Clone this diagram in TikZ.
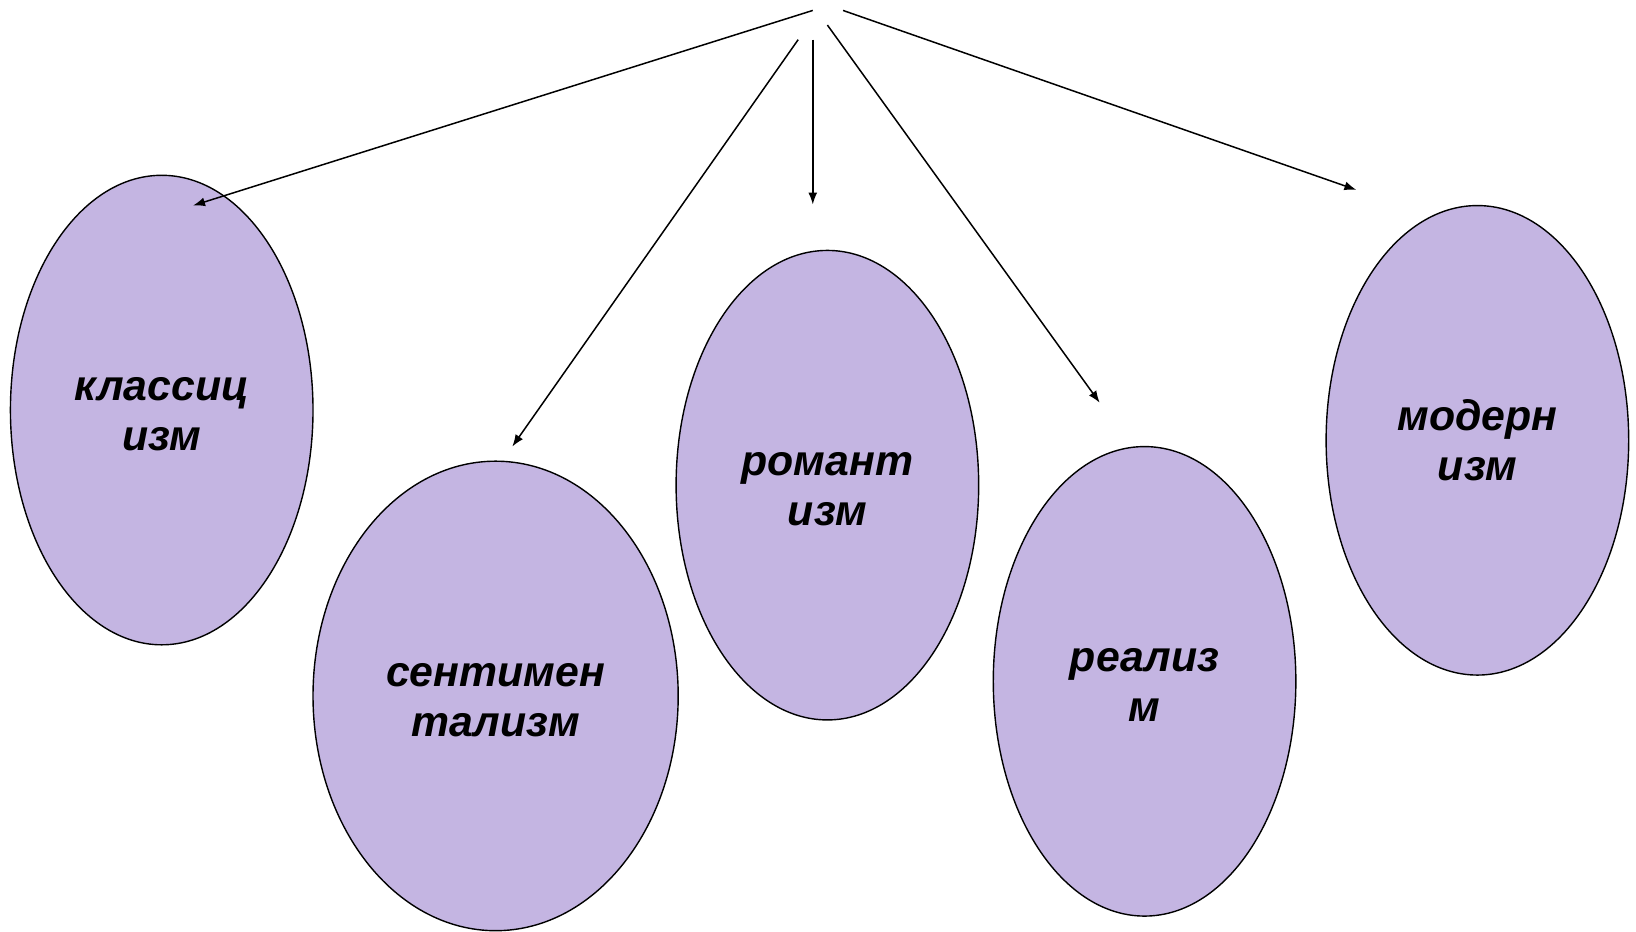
\documentclass[tikz,border=0pt]{standalone}
\usepackage{fontspec}
\setmainfont{Liberation Sans}
\usetikzlibrary{shapes.geometric,arrows.meta}
\definecolor{lilac}{RGB}{196,181,226}
\newcommand{\twolines}[2]{\raisebox{-2.6pt}[\height][\depth]{\begin{tabular}{@{}c@{}}#1\\#2\end{tabular}}}
\begin{document}
\begin{tikzpicture}[x=0.5217pt,y=-0.5217pt,
  oval/.style={ellipse,draw=black,line width=0.7pt,fill=lilac,inner sep=0pt,
    minimum width=#1*0.5217pt*2,minimum height=450*0.5217pt,
    font=\fontsize{21.4}{25}\selectfont\bfseries\itshape},
  link/.style={line width=0.75pt,-{Latex[length=6pt,width=4.5pt]}}]
\useasboundingbox (0,0) rectangle (1568,893);
\node[oval=145] (klass) at (155,393) {\twolines{классиц}{изм}};
\node[oval=175] (sent) at (475,667) {\twolines{сентимен}{тализм}};
\node[oval=145] (rom) at (793,465) {\twolines{романт}{изм}};
\node[oval=145] (real) at (1097,653) {\twolines{реализ}{м}};
\node[oval=145] (mod) at (1416,422) {\twolines{модерн}{изм}};
\coordinate (s1) at (779,10);   \coordinate (e1) at (185,197);
\coordinate (s2) at (765,38);   \coordinate (e2) at (491,428);
\coordinate (s3) at (779,38);   \coordinate (e3) at (779,196);
\coordinate (s4) at (793,24);   \coordinate (e4) at (1054,386);
\coordinate (s5) at (808,10);   \coordinate (e5) at (1300,182);
\draw[link] (s1) -- (e1);
\draw[link] (s2) -- (e2);
\draw[link] (s3) -- (e3);
\draw[link] (s4) -- (e4);
\draw[link] (s5) -- (e5);
\end{tikzpicture}
\end{document}
